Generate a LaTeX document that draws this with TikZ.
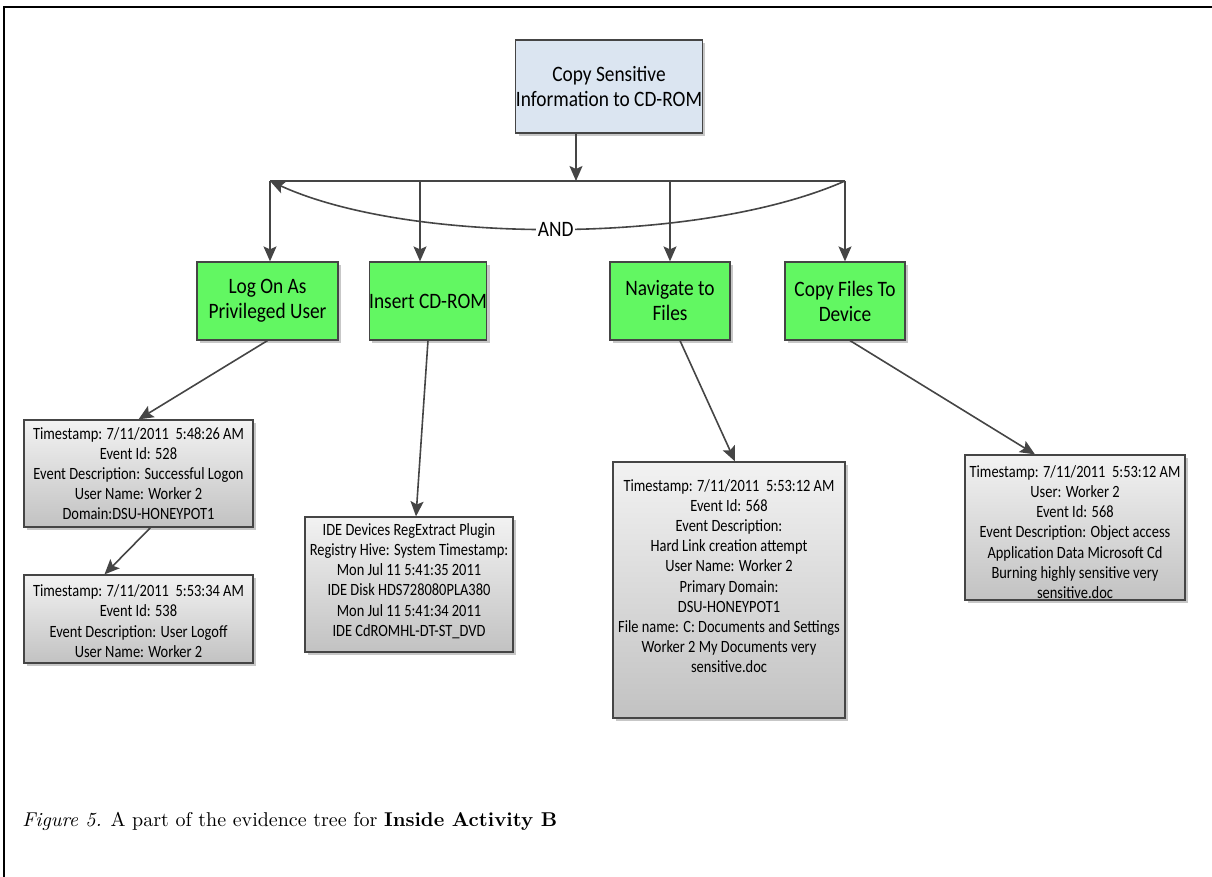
\documentclass[tikz,border=0pt]{standalone}
\usepackage{fontspec}
\newfontfamily\boxfont[FakeStretch=0.88]{Carlito}
\newfontfamily\evfont[FakeStretch=0.84]{Carlito}
\usetikzlibrary{arrows.meta,shadows,positioning}

\definecolor{edge}{HTML}{454545}
\definecolor{goalfill}{HTML}{DBE5F1}
\definecolor{leaffill}{HTML}{62F762}
\definecolor{evtop}{HTML}{F2F2F2}
\definecolor{evbot}{HTML}{C2C2C2}

\tikzset{
  box/.style={draw=edge, line width=0.6pt, inner sep=0pt,
    drop shadow={shadow xshift=1.5pt, shadow yshift=-1.5pt, fill=black!22, opacity=1}},
  goalbox/.style={box, fill=goalfill, align=center,
    font=\boxfont\fontsize{11}{12.5}\selectfont},
  stepbox/.style={box, fill=leaffill, align=center,
    font=\boxfont\fontsize{11}{12.5}\selectfont},
  evbox/.style={box, top color=evtop, bottom color=evbot},
  evtext/.style={align=center, inner sep=0pt,
    font=\evfont\fontsize{8.6}{10.1}\selectfont},
  wire/.style={draw=edge, line width=0.8pt},
  link/.style={wire, -{Stealth[length=7.5pt,width=6.5pt,inset=1.5pt]}},
}

\begin{document}
\begin{tikzpicture}[x=0.5pt,y=-0.5pt]
\useasboundingbox (0,0) rectangle (1212,877);

% page frame
\draw[line width=1pt] (3,7) -- (1212,7);
\draw[line width=1pt] (4,7) -- (4,877);

% goal
\node[goalbox, minimum width=81pt, minimum height=46.5pt] (goal) at (609,86.5)
  {Copy Sensitive\\Information to CD-ROM};

% sub-goals
\node[stepbox, minimum width=70.5pt, minimum height=39pt] (g1) at (267.5,301)
  {Log On As\\Privileged User};
\node[stepbox, minimum width=58pt, minimum height=39pt] (g2) at (428,301)
  {Insert CD-ROM};
\node[stepbox, minimum width=60pt, minimum height=39pt] (g3) at (670,301)
  {Navigate to\\Files};
\node[stepbox, minimum width=60pt, minimum height=39pt] (g4) at (845,301)
  {Copy Files To\\Device};

% AND bar
\coordinate (bl) at (270,181);
\coordinate (b2) at (420,181);
\coordinate (bm) at (576,181);
\coordinate (b3) at (670,181);
\coordinate (br) at (845,181);

\draw[link] ([xshift=-16.5pt]goal.south) -- (bm);
\draw[wire] (bl) -- (br);
\draw[link] (bl) -- (bl |- g1.north);
\draw[link] (b2) -- (b2 |- g2.north);
\draw[link] (b3) -- (b3 |- g3.north);
\draw[link] (br) -- (br |- g4.north);
\draw[link] (br) .. controls (700,245) and (410,245) .. (bl)
  node[pos=0.5, fill=white, inner sep=1pt,
       font=\boxfont\fontsize{11}{12.5}\selectfont] (and) {AND};

% evidence
\node[evbox, minimum width=114.5pt, minimum height=53.5pt] (e1) at (138.5,473.5) {};
\node[evtext] (e1t) at (138.5,473.5)
  {Timestamp: 7/11/2011\ \ 5:48:26 AM\\Event Id: 528\\Event Description: Successful Logon\\User Name: Worker 2\\Domain:DSU-HONEYPOT1};

\node[evbox, minimum width=114.5pt, minimum height=44pt] (e2) at (138.5,619) {};
\node[evtext] (e2t) at (138.5,621)
  {Timestamp: 7/11/2011\ \ 5:53:34 AM\\Event Id: 538\\Event Description: User Logoff\\User Name: Worker 2};

\node[evbox, minimum width=104pt, minimum height=67.5pt] (e3) at (409,584.5) {};
\node[evtext] (e3t) at (409,581)
  {IDE Devices RegExtract Plugin\\Registry Hive: System Timestamp:\\Mon Jul 11 5:41:35 2011\\IDE Disk HDS728080PLA380\\Mon Jul 11 5:41:34 2011\\IDE CdROMHL-DT-ST\_DVD};

\node[evbox, minimum width=116pt, minimum height=128pt] (e4) at (729,590) {};
\node[evtext] (e4t) at (729,576)
  {Timestamp: 7/11/2011\ \ 5:53:12 AM\\Event Id: 568\\Event Description:\\Hard Link creation attempt\\User Name: Worker 2\\Primary Domain:\\DSU-HONEYPOT1\\File name: C: Documents and Settings\\Worker 2 My Documents very\\sensitive.doc};

\node[evbox, minimum width=110pt, minimum height=72.5pt] (e5) at (1075,527.5) {};
\node[evtext] (e5t) at (1075,532)
  {Timestamp: 7/11/2011\ \ 5:53:12 AM\\User: Worker 2\\Event Id: 568\\Event Description: Object access\\Application Data Microsoft Cd\\Burning highly sensitive very\\sensitive.doc};

% evidence links
\draw[link] (g1.south) -- (e1.north);
\draw[link] ([xshift=6pt]e1.south) -- ([xshift=-17pt]e2.north);
\draw[link] (g2.south) -- ([xshift=3.5pt]e3.north);
\draw[link] ([xshift=5pt]g3.south) -- ([xshift=3pt]e4.north);
\draw[link] ([xshift=2.5pt]g4.south) -- ([xshift=-20pt]e5.north);

% caption
\node[anchor=base west, inner sep=0pt, font=\fontsize{10}{12}\selectfont] (cap) at (22,826)
  {\textit{Figure 5.} A part of the evidence tree for \textbf{Inside Activity B}};
\end{tikzpicture}
\end{document}
